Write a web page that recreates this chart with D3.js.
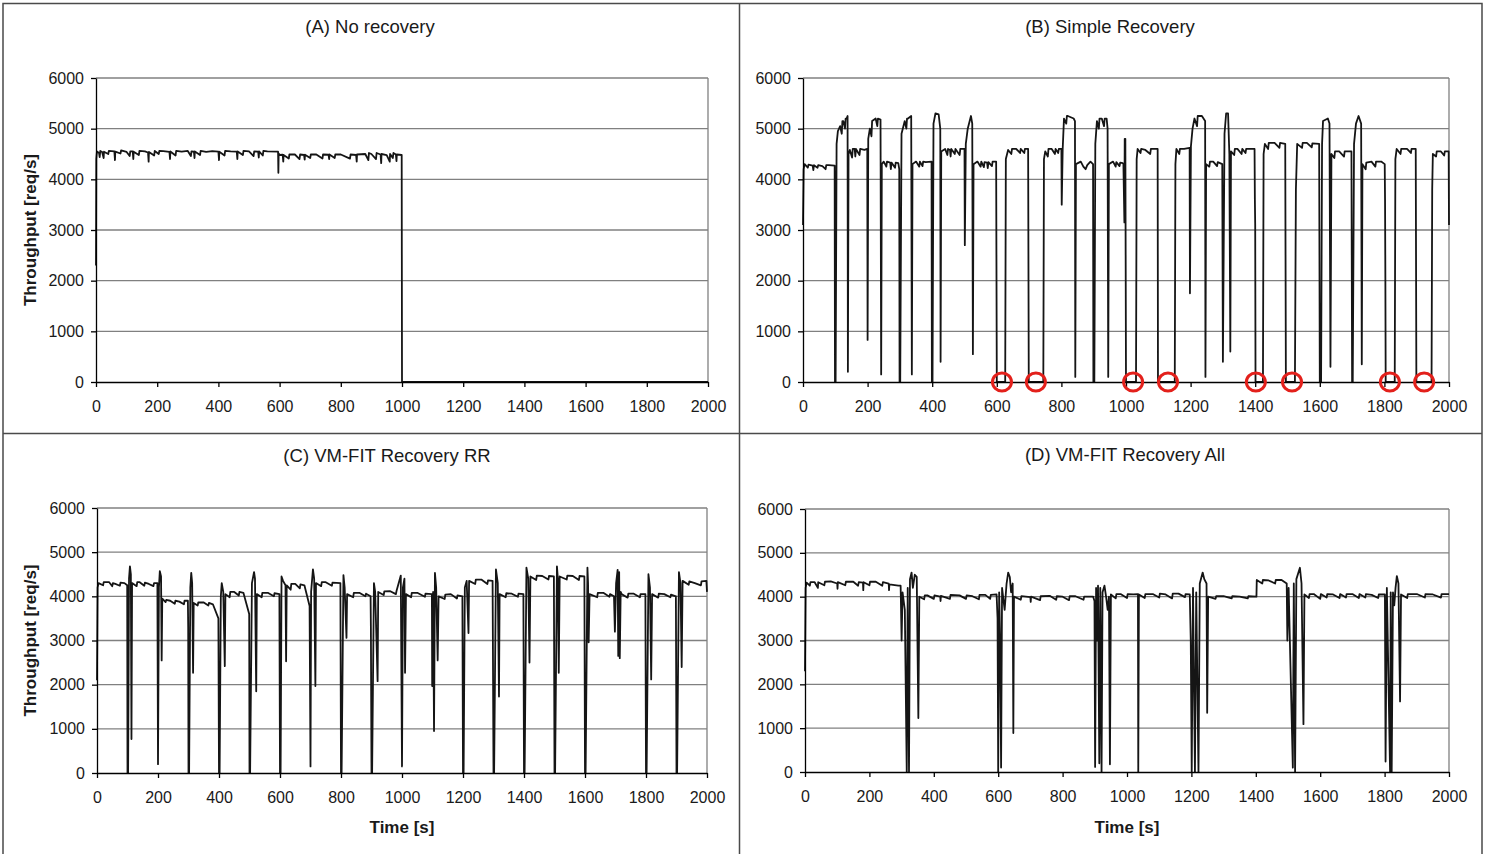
<!DOCTYPE html>
<html>
<head>
<meta charset="utf-8">
<script src="https://cdn.jsdelivr.net/npm/d3@7"></script>
<style>
  body { margin: 0; background: #fff; }
  svg text { font-family: "Liberation Sans", Arial, sans-serif; fill: #1a1a1a; }
  .grid line { stroke: #808080; stroke-width: 1.3; }
  .axis path, .axis line { stroke: #000; stroke-width: 1.3; }
  .axis text { font-size: 16px; }
  .frame { stroke: #4a4a4a; stroke-width: 1.5; fill: none; }
  .trace { fill: none; stroke: #151515; stroke-width: 1.8; stroke-linejoin: round; }
  .fail { fill: none; stroke: #e3201b; stroke-width: 3; }
</style>
</head>
<body>
<svg id="chart" width="1487" height="854"></svg>
<script>
// ticks shared by all four panels
const xTicks = [0, 200, 400, 600, 800, 1000, 1200, 1400, 1600, 1800, 2000];
const yTicks = [0, 1000, 2000, 3000, 4000, 5000, 6000];

const titles = ["(A) No recovery", "(B) Simple Recovery", "(C) VM-FIT Recovery RR", "(D) VM-FIT Recovery All"];

// [time s, throughput req/s]
const noRecovery = [
  [0,2300],[1,4400],[3,4550],[10,4520],[12,4440],[14,4560],[20,4540],[25,4420],[26,4545],[40,4500],[42,4560],
  [60,4550],[62,4380],[63,4545],[80,4510],[82,4570],[100,4540],[110,4460],[112,4550],
  [120,4550],[122,4400],[123,4545],[140,4480],[142,4560],[160,4550],[170,4530],[172,4350],[173,4540],
  [190,4470],[192,4560],[205,4500],[207,4560],[220,4555],[240,4540],
  [242,4400],[243,4550],[260,4470],[262,4560],[280,4545],[300,4560],[310,4460],[312,4550],[320,4545],
  [322,4420],[323,4550],[340,4480],[342,4560],[360,4540],[380,4555],
  [400,4545],[402,4380],[403,4545],[420,4470],[422,4560],[440,4550],[460,4545],[462,4400],[463,4550],
  [480,4480],[482,4560],[500,4550],[515,4460],[517,4550],[530,4545],
  [532,4430],[533,4550],[545,4470],[547,4560],[560,4550],[595,4545],[596,4130],[597,4510],[600,4480],
  [610,4485],[612,4350],[613,4480],[630,4410],[632,4490],[650,4490],[665,4400],[667,4490],[680,4480],
  [682,4390],[683,4485],[700,4420],[702,4490],[720,4490],[740,4410],[742,4490],[760,4485],[762,4400],
  [763,4490],[780,4420],[782,4490],[800,4490],[830,4410],[832,4490],[850,4480],[852,4350],[853,4490],
  [880,4500],[890,4380],[892,4520],[900,4500],[915,4400],[917,4520],[930,4490],[932,4320],[933,4500],
  [950,4480],[960,4350],[961,4500],[970,4420],[972,4520],[980,4490],[982,4360],[983,4490],[999,4480],
  [1000,0],[2000,0]
];

const simpleRecovery = [
  [0,3100],[2,4200],[5,4300],[15,4230],[17,4290],[30,4270],[32,4180],[34,4280],[45,4230],[47,4280],
  [60,4260],[70,4200],[72,4280],[80,4280],[98,4270],[99,0],[101,0],
  [104,4700],[108,4950],[115,5050],[120,4900],[122,5150],[125,5150],[130,5000],[132,5200],[135,5200],
  [138,5250],[139,200],[141,4500],[145,4580],[152,4430],[154,4600],
  [160,4600],[162,4450],[164,4600],[175,4480],[177,4600],[190,4580],[199,4600],[200,830],[202,4800],
  [207,5000],[212,4850],[214,5150],[225,5200],[230,5050],[232,5200],
  [240,5180],[242,150],[244,4300],[250,4350],[258,4250],[260,4350],[270,4330],[272,4200],[274,4330],
  [285,4230],[287,4330],[295,4320],
  [298,4200],[299,0],[301,0],[305,4900],[315,5150],[320,5000],[322,5200],[325,5200],[335,5250],[337,150],
  [339,4300],[350,4350],[360,4250],[362,4350],[370,4260],[372,4350],
  [380,4340],[398,4350],[399,0],[401,0],[404,5100],[410,5300],[420,5280],[425,5000],[426,400],[428,4550],
  [440,4600],[447,4480],[449,4600],[455,4580],[457,4450],[459,4600],[470,4500],[472,4600],[485,4480],
  [487,4600],[500,4600],[501,2700],[504,4700],[510,5000],[518,5200],
  [520,5250],[524,5100],[526,550],[528,4300],[540,4350],[550,4250],[552,4350],[560,4240],[562,4340],
  [570,4330],[572,4220],[574,4340],[585,4260],[587,4350],[598,4350],
  [600,0],[626,0],[628,4400],[635,4580],[645,4500],[647,4600],[660,4600],[672,4520],[674,4600],
  [685,4520],[687,4600],[697,4600],[699,0],[744,0],[746,4400],[750,4550],[758,4450],[760,4600],
  [770,4600],[780,4500],[782,4600],[790,4520],[792,4600],[800,4600],[801,3500],[804,4600],[808,5200],
  [815,5100],[817,5250],[820,5250],[838,5200],[842,5150],[843,100],
  [845,4300],[860,4350],[868,4250],[875,4200],[880,4280],[890,4350],[898,4300],[899,0],[902,0],
  [905,4700],[910,5150],[916,5000],[918,5200],[925,5200],[932,5050],[934,5200],
  [940,5200],[943,5000],[945,100],[947,4300],[960,4350],[968,4250],[970,4340],[980,4260],[982,4330],
  [990,4320],[992,4300],[995,3150],
  [996,4800],[998,4800],[1000,0],[1031,0],[1033,4400],[1036,4600],[1045,4520],[1047,4600],[1060,4580],
  [1075,4500],[1077,4600],[1098,4600],[1099,0],
  [1151,0],[1153,4300],[1156,4600],[1165,4500],[1167,4600],[1180,4600],[1197,4620],[1198,1750],
  [1201,4650],[1206,5000],[1212,5200],[1220,5050],[1222,5250],
  [1235,5250],[1245,5150],[1246,100],[1248,4300],[1258,4250],[1260,4350],[1270,4350],[1282,4260],
  [1284,4340],[1298,4300],[1300,400],
  [1305,4900],[1310,5300],[1316,5300],[1320,4500],[1323,600],[1325,4550],[1335,4480],[1337,4600],
  [1345,4600],[1358,4500],[1360,4600],[1370,4520],[1372,4600],[1380,4600],
  [1398,4600],[1399,3600],[1400,3100],[1401,0],[1424,0],[1426,4500],[1430,4700],[1440,4600],
  [1442,4720],[1460,4720],[1475,4620],[1477,4720],
  [1493,4700],[1495,0],[1523,0],[1526,3800],[1530,4700],[1545,4620],[1547,4720],[1560,4720],
  [1575,4630],[1577,4710],[1598,4700],[1600,0],[1604,0],
  [1607,4700],[1610,5150],[1625,5200],[1630,5100],[1633,300],[1636,4500],[1645,4420],[1647,4550],
  [1660,4550],[1675,4450],[1677,4550],[1698,4550],
  [1700,0],[1702,0],[1706,4700],[1712,5100],[1720,5250],[1728,5100],[1730,350],[1732,4300],[1742,4200],
  [1744,4330],[1760,4350],[1772,4250],[1774,4350],
  [1790,4350],[1801,4300],[1802,3600],[1803,2050],[1804,0],[1832,0],[1834,4400],[1838,4600],
  [1850,4500],[1852,4600],[1870,4600],[1882,4520],[1884,4600],
  [1897,4600],[1899,0],[1946,0],[1948,3800],[1950,4500],[1960,4450],[1962,4550],[1975,4550],
  [1985,4470],[1987,4550],[1999,4550],[2000,3100]
];

const recoveryRR = [
  [0,2100],[2,4200],[5,4300],[20,4250],[22,4320],[40,4320],[50,4230],[52,4300],[60,4280],[75,4240],
  [77,4310],[90,4300],[99,4250],[100,0],[102,0],[105,4400],
  [108,4680],[111,4500],[113,770],[115,4300],[130,4230],[132,4320],[140,4320],[155,4240],[157,4310],
  [170,4280],[185,4230],[187,4300],[198,4300],[200,200],[203,4200],
  [206,4570],[210,4450],[212,2550],[214,3950],[225,3870],[227,3920],[240,3900],[255,3830],[257,3900],
  [270,3880],[285,3820],[287,3900],[298,3900],[299,3300],[300,0],
  [302,0],[306,4200],[309,4530],[312,4300],[315,2270],[317,3850],[330,3790],[332,3860],[350,3860],
  [365,3790],[367,3850],[380,3820],[398,3500],
  [400,0],[402,0],[406,4000],[409,4300],[414,4100],[419,2420],[421,4050],[435,3980],[437,4100],
  [450,4100],[465,4020],[467,4100],[480,4080],
  [499,3600],[500,0],[502,0],[508,4300],[515,4550],[518,4400],[522,1850],[524,4050],[540,3980],
  [542,4080],[560,4080],[580,4000],[582,4070],
  [598,4050],[600,0],[602,0],[605,4450],[610,4350],[618,4250],[620,2530],[622,4250],[635,4150],
  [637,4280],[650,4280],[665,4180],[667,4270],
  [680,4250],[697,3780],[700,150],[702,4100],[708,4610],[712,4400],[716,1970],[718,4300],[735,4230],
  [737,4320],[750,4320],[770,4240],[772,4310],
  [798,4300],[800,0],[802,0],[808,4480],[812,4200],[818,3060],[820,4050],[840,3980],[842,4080],
  [860,4080],[880,4000],[882,4060],[897,4000],
  [898,3300],[900,0],[902,0],[908,4300],[912,4100],[920,2080],[922,4100],[940,4030],[942,4110],
  [960,4120],[980,4050],[982,4120],[996,4470],
  [1000,150],[1003,4200],[1008,4400],[1010,2270],[1013,4050],[1030,3980],[1032,4080],[1050,4080],
  [1075,3990],[1077,4060],[1098,4050],[1099,1970],
  [1102,4100],[1105,950],[1108,4530],[1112,4200],[1117,2550],[1120,4000],[1140,3940],[1142,4040],
  [1160,4050],[1180,3950],[1182,4020],[1198,4000],
  [1200,0],[1202,0],[1206,4200],[1212,4350],[1218,3170],[1220,4350],[1240,4280],[1242,4380],
  [1260,4380],[1280,4280],[1282,4360],[1297,4350],
  [1298,3000],[1300,0],[1302,0],[1308,4610],[1314,4300],[1318,1730],[1320,4050],[1340,3980],
  [1342,4070],[1360,4060],[1380,3990],[1382,4060],
  [1398,4050],[1400,0],[1402,0],[1408,4650],[1414,4400],[1418,2500],[1421,4450],[1440,4370],
  [1442,4470],[1460,4460],[1480,4380],[1482,4460],
  [1498,4450],[1500,0],[1502,0],[1508,4680],[1511,4400],[1514,2270],[1517,4450],[1540,4380],
  [1542,4470],[1560,4460],[1580,4370],[1582,4460],
  [1598,4450],[1600,0],[1602,0],[1608,4650],[1610,4300],[1612,2960],[1615,4050],[1640,3980],
  [1642,4080],[1660,4080],[1680,3990],[1682,4050],
  [1695,4000],[1698,3200],[1702,4300],[1707,4600],[1709,2650],[1712,4550],[1714,2600],[1717,4100],
  [1720,4050],[1740,3970],[1742,4060],[1760,4060],[1780,3980],[1782,4050],[1798,4050],[1800,0],
  [1802,0],[1808,4500],[1813,4200],[1817,2120],
  [1820,4050],[1840,3970],[1842,4060],[1860,4050],[1880,3980],[1882,4040],[1898,4000],[1900,0],
  [1902,0],[1908,4550],[1913,4300],[1917,2400],
  [1920,4350],[1940,4260],[1942,4340],[1960,4300],[1980,4250],[1982,4340],[1998,4350],[2000,4100]
];

const recoveryAll = [
  [0,2300],[2,4200],[5,4320],[15,4250],[17,4330],[30,4330],[40,4200],[41,4330],[60,4260],[62,4340],
  [80,4350],[100,4300],[101,4180],[102,4330],[125,4260],[127,4340],
  [150,4340],[165,4250],[167,4330],[180,4320],[181,4150],[182,4330],[200,4260],[202,4340],[220,4340],
  [240,4250],[242,4330],[260,4300],[261,4150],[262,4280],[290,4250],
  [297,4250],[300,3000],[303,4100],[310,3700],[316,0],[319,4200],[323,0],[326,4400],[331,4550],
  [335,4200],[341,4500],[347,4450],[352,1230],[355,4000],[370,3940],[372,4030],[380,4030],[400,3950],
  [402,4030],[420,4000],[421,3900],[422,4020],[450,3950],[452,4040],
  [480,4030],[500,3950],[502,4030],[520,4010],[540,3940],[542,4040],[560,4040],[575,3950],[577,4040],
  [595,4050],[598,3500],[600,0],[603,4100],[606,3000],[609,100],
  [612,4200],[620,3700],[626,4300],[631,4550],[636,4450],[640,4100],[645,4300],[647,890],[649,4000],
  [670,3930],[672,4010],[700,3990],[701,3880],[702,4000],[730,3920],[732,4010],[760,4020],[780,3930],
  [782,4010],[800,4000],[820,3920],[822,4010],[840,4010],[865,3930],[867,4000],
  [895,4000],[899,3900],[901,115],
  [904,4200],[907,3000],[910,4250],[914,200],[917,4200],[921,0],[924,4100],[930,4250],[935,4000],
  [940,3700],[944,4000],[947,175],[950,4050],[965,3960],[967,4060],[980,4060],[1000,3970],[1002,4060],
  [1020,4050],[1034,4060],[1035,0],[1037,4050],[1055,3970],[1057,4060],
  [1080,4060],[1100,3980],[1102,4070],[1120,4050],[1140,3960],[1142,4070],[1160,4070],[1180,3990],
  [1182,4060],[1195,4050],[1198,3000],[1201,0],[1205,4200],[1211,0],
  [1215,4100],[1222,0],[1226,4300],[1235,4550],[1240,4400],[1247,4300],[1249,1350],[1252,4000],
  [1275,3950],[1277,4010],[1300,4010],[1325,3960],[1327,4010],[1350,4000],[1375,3960],[1377,4010],
  [1402,4000],[1403,4380],[1420,4300],[1422,4380],[1440,4370],[1460,4300],[1462,4380],
  [1480,4380],[1496,4300],[1498,3000],
  [1502,4200],[1515,100],[1518,4300],[1522,0],[1526,4400],[1537,4660],[1542,4300],[1548,1090],
  [1551,4050],[1565,3970],[1567,4060],[1580,4060],[1600,3950],[1602,4060],[1620,3980],[1622,4060],
  [1640,4050],[1660,3970],[1662,4060],[1680,3980],[1682,4060],[1700,4060],[1720,3970],[1722,4060],
  [1740,3980],[1742,4060],[1760,4040],[1780,3970],[1782,4050],[1801,4050],[1803,240],[1807,4200],
  [1817,0],[1819,4100],[1822,0],[1826,4100],[1830,3800],[1834,4200],[1838,4470],[1843,4300],
  [1848,1610],[1851,4050],[1870,3970],[1872,4060],[1900,4060],[1925,3980],[1927,4060],[1950,4050],
  [1975,3980],[1977,4060],[2000,4060]
];

// failed recoveries marked in panel B
const failTimes = [616, 721, 1022, 1130, 1402, 1514, 1817, 1923];

const series = [noRecovery, simpleRecovery, recoveryRR, recoveryAll];

// plot boxes for each panel
const panels = [
  {left: 96,  right: 708,  top: 78,  bottom: 382, titleX: 370,  titleY: 33,  yLabel: true,  xLabel: false},
  {left: 803, right: 1449, top: 78,  bottom: 382, titleX: 1110, titleY: 33,  yLabel: false, xLabel: false},
  {left: 97,  right: 707,  top: 508, bottom: 773, titleX: 387,  titleY: 462, yLabel: true,  xLabel: true},
  {left: 805, right: 1449, top: 509, bottom: 772, titleX: 1125, titleY: 461, yLabel: false, xLabel: true}
];

const svg = d3.select("#chart");

// figure frame
svg.append("path").attr("class", "frame")
  .attr("d", "M3,860 V3.5 H1482 V860 M739.5,3.5 V860 M3,433.5 H1482");

panels.forEach((p, i) => {
  const x = d3.scaleLinear().domain([0, 2000]).range([p.left, p.right]);
  const y = d3.scaleLinear().domain([0, 6000]).range([p.bottom, p.top]);

  const g = svg.append("g");

  // gridlines + right border
  const grid = g.append("g").attr("class", "grid");
  grid.selectAll("line.h").data(yTicks.slice(1)).enter().append("line")
    .attr("x1", p.left).attr("x2", p.right)
    .attr("y1", d => y(d)).attr("y2", d => y(d));
  grid.append("line")
    .attr("x1", p.right).attr("x2", p.right)
    .attr("y1", p.top).attr("y2", p.bottom);

  const line = d3.line().x(d => x(d[0])).y(d => y(d[1]));
  g.append("path").datum(series[i]).attr("class", "trace").attr("d", line);

  g.append("g").attr("class", "axis")
    .attr("transform", `translate(0,${p.bottom})`)
    .call(d3.axisBottom(x).tickValues(xTicks).tickFormat(d3.format("d"))
      .tickSize(5).tickPadding(14).tickSizeOuter(0));
  g.append("g").attr("class", "axis")
    .attr("transform", `translate(${p.left},0)`)
    .call(d3.axisLeft(y).tickValues(yTicks).tickFormat(d3.format("d"))
      .tickSize(5).tickPadding(7).tickSizeOuter(0));

  g.append("text")
    .attr("x", p.titleX).attr("y", p.titleY)
    .attr("text-anchor", "middle")
    .style("font-size", "18.5px")
    .text(titles[i]);

  if (p.yLabel) {
    g.append("text")
      .attr("transform", `translate(36,${(p.top + p.bottom) / 2}) rotate(-90)`)
      .attr("text-anchor", "middle")
      .style("font-size", "17px").style("font-weight", "bold")
      .text("Throughput [req/s]");
  }
  if (p.xLabel) {
    g.append("text")
      .attr("x", (p.left + p.right) / 2).attr("y", 833)
      .attr("text-anchor", "middle")
      .style("font-size", "17px").style("font-weight", "bold")
      .text("Time [s]");
  }

  if (i === 1) {
    g.selectAll("ellipse.fail").data(failTimes).enter().append("ellipse")
      .attr("class", "fail")
      .attr("cx", d => x(d)).attr("cy", p.bottom)
      .attr("rx", 9.5).attr("ry", 9);
  }
});
</script>
</body>
</html>
